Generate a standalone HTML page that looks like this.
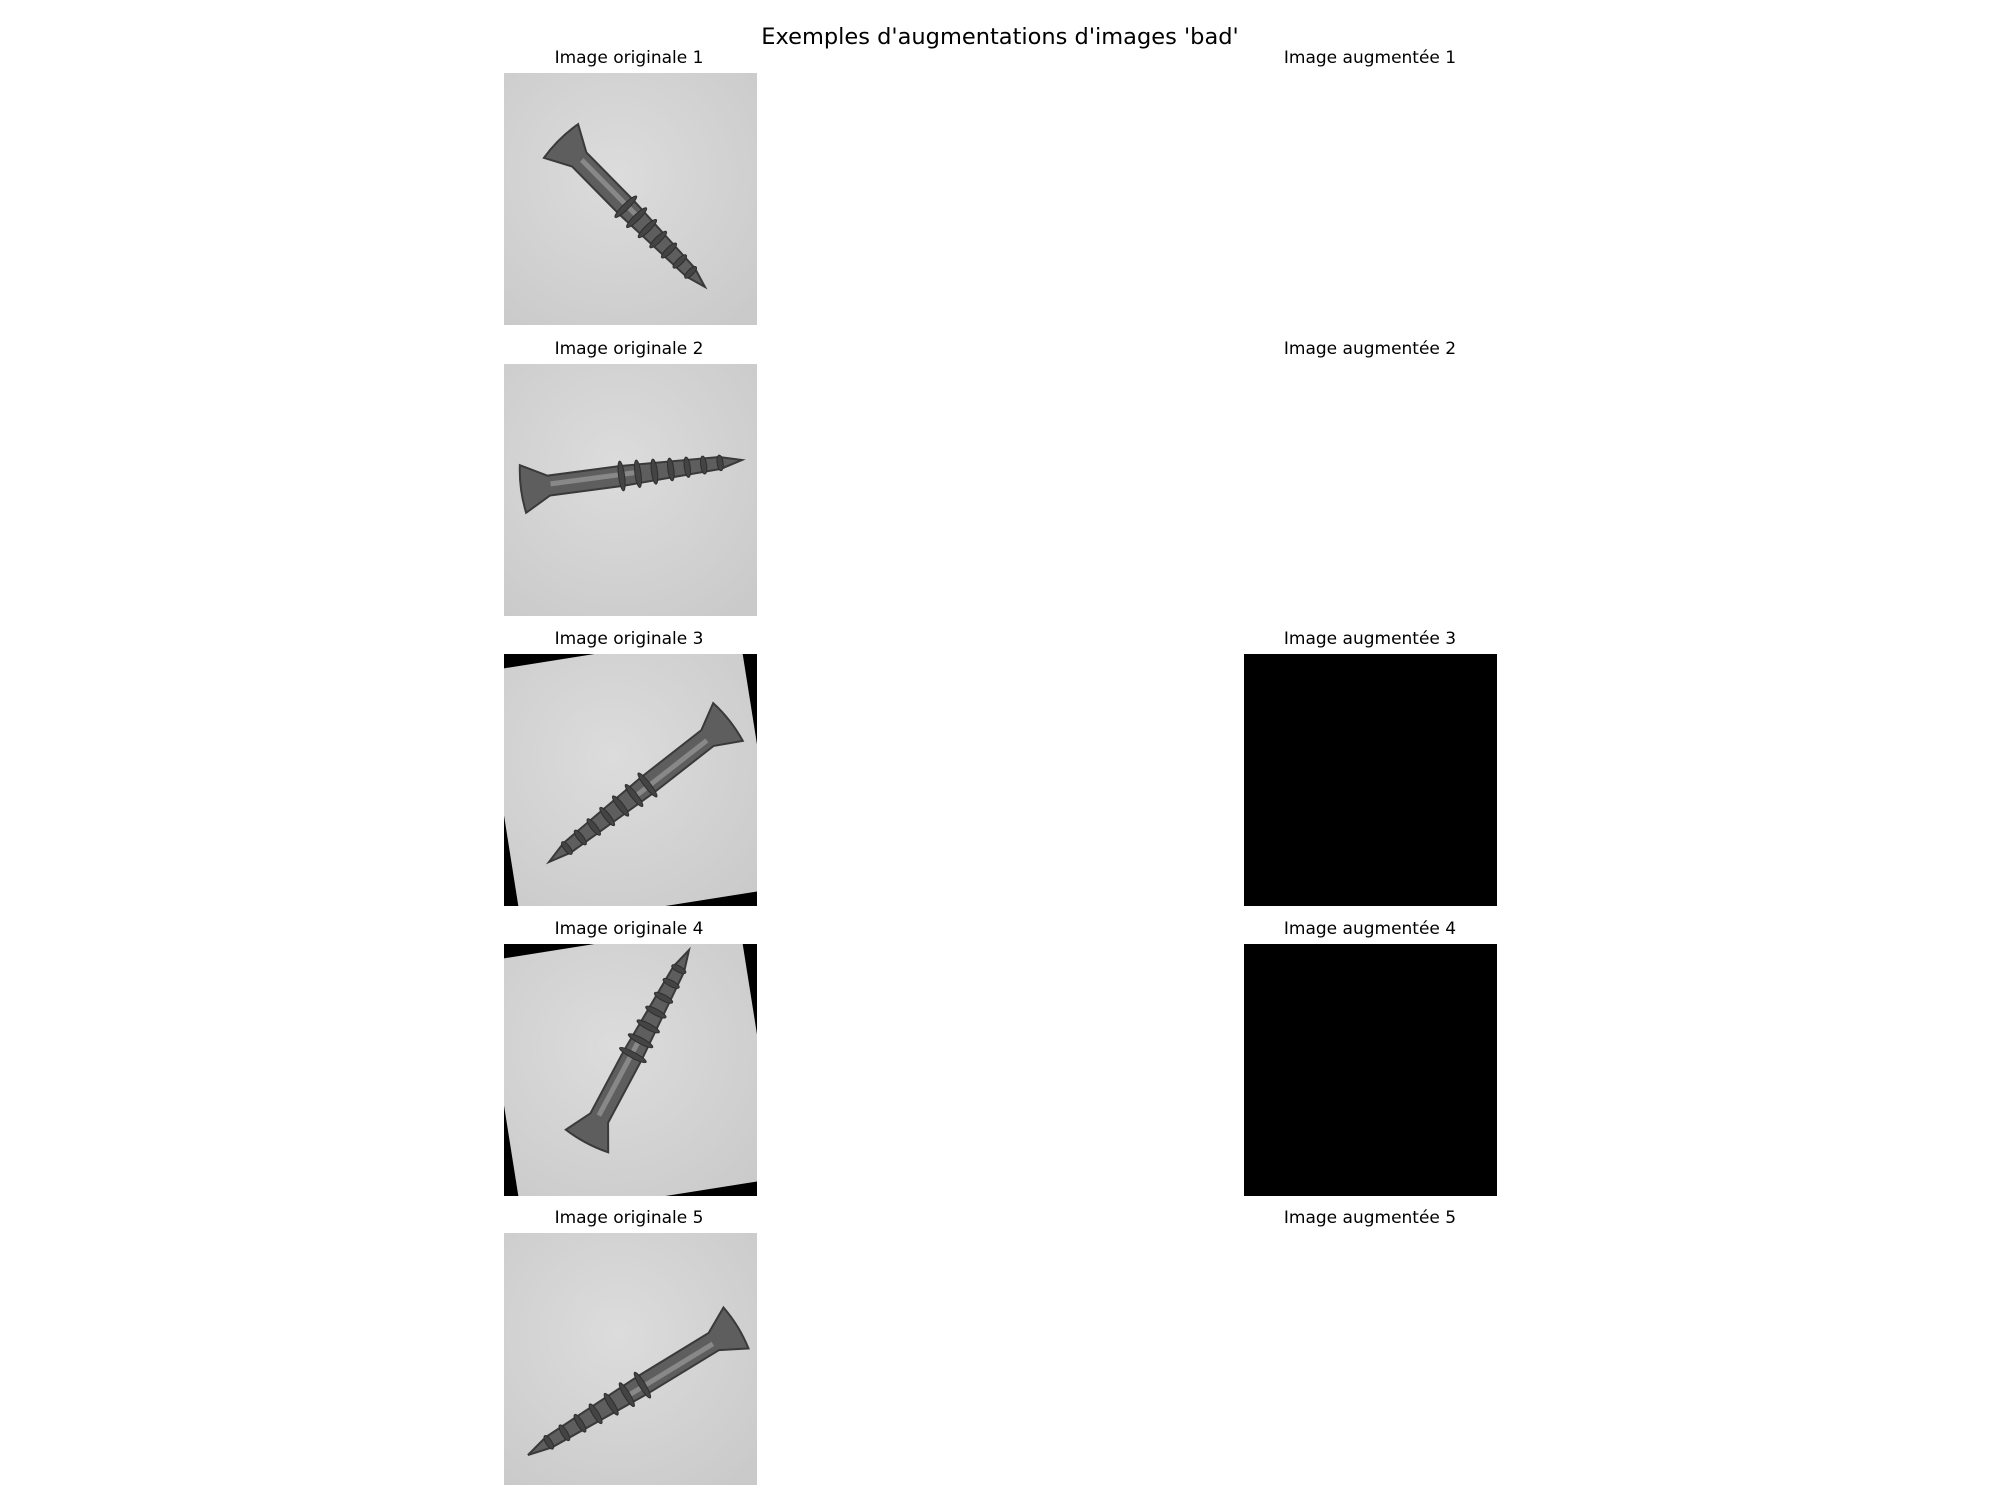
<!DOCTYPE html>
<html><head><meta charset="utf-8">
<style>
body{margin:0;background:#fff;width:2000px;height:1500px;position:relative;overflow:hidden;font-family:"Liberation Sans","DejaVu Sans",sans-serif;}
.t{position:absolute;transform:translateX(-50%);font-family:"DejaVu Sans","Liberation Sans",sans-serif;font-size:17px;color:#000;white-space:nowrap;}
svg.img{position:absolute;width:253px;height:252px;}
</style></head><body>
<div class="t" style="left:1000px;top:24px;font-size:22.5px;">Exemples d'augmentations d'images 'bad'</div>
<div id="root"></div>
<script>
const rowTops=[73,364,654,944,1233];
const origLabels=["Image originale 1","Image originale 2","Image originale 3","Image originale 4","Image originale 5"];
const augLabels=["Image augmentée 1","Image augmentée 2","Image augmentée 3","Image augmentée 4","Image augmentée 5"];
const augShown=[false,false,true,true,false];
const rotatedBg=[0,0,-9,-9,0];
const heads=[[57,68],[19,125],[224,68],[83,197],[232,95]];
const tips=[[201,214],[238,96],[45,208],[185,6],[24,222]];
const NS="http://www.w3.org/2000/svg";
const root=document.getElementById('root');
function mk(tag,attrs){const e=document.createElementNS(NS,tag);for(const k in attrs)e.setAttribute(k,attrs[k]);return e;}
function screw(g,h,t){
  const dx=t[0]-h[0],dy=t[1]-h[1];const L=Math.hypot(dx,dy);const ang=Math.atan2(dy,dx)*180/Math.PI;
  const s=mk('g',{transform:`translate(${h[0]},${h[1]}) rotate(${ang})`});
  s.appendChild(mk('path',{d:`M0,-24 Q-4,0 0,24 L26,10 L${L*0.45},10 L${L*0.9},6 L${L},0 L${L*0.9},-6 L${L*0.45},-10 L26,-10 Z`,fill:'#5e5e5e',stroke:'#3a3a3a','stroke-width':2}));
  s.appendChild(mk('rect',{x:28,y:-4,width:L*0.4,height:5,fill:'#888'}));
  for(let i=0;i<7;i++){const x=L*0.45+i*L*0.075;const w=15-i*1.2;
    s.appendChild(mk('ellipse',{cx:x,cy:0,rx:3,ry:w,fill:'#444',stroke:'#2e2e2e','stroke-width':1}));}
  g.appendChild(s);
}
for(let r=0;r<5;r++){
  const top=rowTops[r];
  let d=document.createElement('div');d.className='t';d.textContent=origLabels[r];d.style.left='629px';d.style.top=(top-25)+'px';
  
  
  root.appendChild(d);
  d=document.createElement('div');d.className='t';d.textContent=augLabels[r];d.style.left='1370px';d.style.top=(top-25)+'px';
  
  
  root.appendChild(d);
  const sv=mk('svg',{class:'img',viewBox:'0 0 253 252'});sv.style.left='504px';sv.style.top=top+'px';
  
  
  const defs=mk('defs',{});const gr=mk('radialGradient',{id:'g'+r,cx:'45%',cy:'40%',r:'75%'});
  gr.appendChild(mk('stop',{offset:'0','stop-color':'#dcdcdc'}));gr.appendChild(mk('stop',{offset:'1','stop-color':'#cacaca'}));
  defs.appendChild(gr);sv.appendChild(defs);
  if(rotatedBg[r]){
    sv.appendChild(mk('rect',{x:0,y:0,width:253,height:252,fill:'#000'}));
    const g=mk('g',{transform:`rotate(${rotatedBg[r]} 126 126)`});
    g.appendChild(mk('rect',{x:-4,y:-4,width:261,height:260,fill:'url(#g'+r+')'}));
    sv.appendChild(g);
  } else sv.appendChild(mk('rect',{x:0,y:0,width:253,height:252,fill:'url(#g'+r+')'}));
  screw(sv,heads[r],tips[r]);
  root.appendChild(sv);
  if(augShown[r]){
    const a=document.createElement('div');a.style.cssText=`position:absolute;left:1244px;top:${top}px;width:253px;height:252px;background:#000;`;
    
    
    root.appendChild(a);
  }
}
</script>
</body></html>
